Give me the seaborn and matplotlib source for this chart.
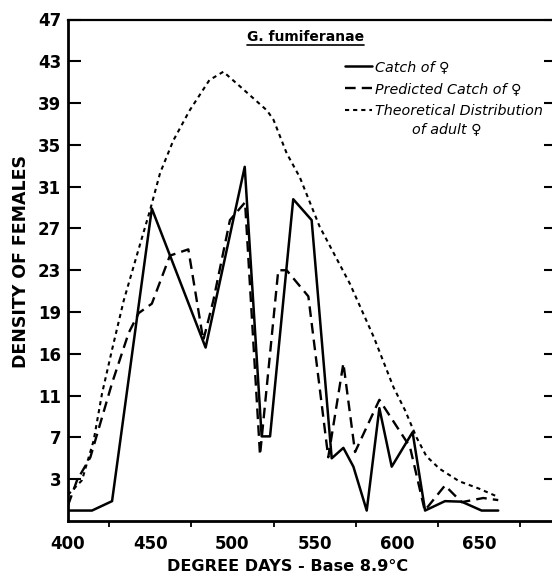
import matplotlib
matplotlib.use("Agg")
import matplotlib.pyplot as plt
import seaborn as sns
import pandas as pd
from matplotlib.lines import Line2D

# ---- data ----
catch_x = [400, 414.6, 426.8, 451, 483.7, 507.5, 517.8, 522.9, 537, 548.2, 560.4,
           567.5, 573.6, 581.7, 589.4, 596.9, 609.6, 617.2, 629.3, 639.4, 651.6, 661.7]
catch_y = [0, 0, 0.9, 28.9, 15.6, 32.9, 7.1, 7.1, 29.8, 27.8, 5.0,
           6.0, 4.2, 0, 9.8, 4.2, 7.5, 0, 0.9, 0.85, 0, 0]

pred_x = [400, 405.5, 413.6, 426.8, 436.9, 443, 451, 462, 473.2, 482.3, 488.4, 498.5,
          507.7, 516.8, 527.9, 533, 546.2, 558.3, 567.5, 574.6, 589.4, 608, 617,
          629.3, 639.4, 652.6, 661.7]
pred_y = [0.5, 2.9, 5.1, 12.2, 17.0, 18.9, 19.8, 24.4, 25.0, 16.3, 20.1, 27.8,
          29.5, 5.3, 23.0, 23.0, 20.5, 5.1, 14.1, 5.6, 10.6, 6.1, 0,
          2.4, 0.8, 1.2, 1.0]

theo_x = [400, 408.5, 415.6, 420.7, 426.8, 433.9, 442, 450, 456, 464, 474, 486, 494.5,
          504.6, 521, 525, 533, 541, 553, 571.5, 586, 598, 605, 612, 618, 626, 638,
          650, 661.7]
theo_y = [1.5, 2.9, 6.7, 11.2, 15.4, 20.1, 24.5, 28.8, 32.3, 35.4, 38.3, 41.2, 42.0,
          40.6, 38.3, 37.4, 34.2, 31.9, 27.2, 21.7, 16.6, 11.8, 9.6, 7.0, 5.2, 4.0, 2.8,
          2.1, 1.3]

x_ticks = [400, 450, 500, 550, 600, 650]
y_ticks = [3, 7, 11, 15, 19, 23, 27, 31, 35, 39, 43, 47]
y_tick_labels = ["3", "7", "11", "16", "19", "23", "27", "31", "35", "39", "43", "47"]

title_text = "G. fumiferanae"
legend_labels = ["Catch of \u2640", "Predicted Catch of \u2640", "Theoretical Distribution"]
legend_extra = "of adult \u2640"
x_label = "DEGREE DAYS - Base 8.9\u00b0C"
y_label = "DENSITY OF FEMALES"

# ---- figure ----
sns.set_style("white")
plt.rcParams['font.family'] = ['DejaVu Sans']
for k in ["text.color", "axes.labelcolor", "xtick.color", "ytick.color"]:
    plt.rcParams[k] = "black"

W, H = 552, 581
fig = plt.figure(figsize=(W / 100, H / 100), dpi=100)
ax = fig.add_axes([68 / W, (H - 521) / H, 488 / W, 501.5 / H])

df_c = pd.DataFrame({"x": catch_x, "y": catch_y})
df_p = pd.DataFrame({"x": pred_x, "y": pred_y})
df_t = pd.DataFrame({"x": theo_x, "y": theo_y})

dash_style = (0, (4.5, 2.6))
dot_style = (0, (2.0, 1.9))

sns.lineplot(data=df_c, x="x", y="y", ax=ax, color="black", lw=1.8,
             sort=False, estimator=None, label=legend_labels[0])
sns.lineplot(data=df_p, x="x", y="y", ax=ax, color="black", lw=1.7,
             linestyle=dash_style, sort=False, estimator=None, label=legend_labels[1])
sns.lineplot(data=df_t, x="x", y="y", ax=ax, color="black", lw=1.5,
             linestyle=dot_style, sort=False, estimator=None, label=legend_labels[2])

ax.set_xlim(400, 400 + 488 / 1.644)
ax.set_ylim(-1, 47)

ax.set_xticks(x_ticks)
ax.set_xticks([425, 475, 525, 575, 625, 675], minor=True)
ax.set_xticklabels([str(v) for v in x_ticks], fontsize=12, fontweight="bold")
ax.set_yticks(y_ticks)
ax.set_yticklabels(y_tick_labels, fontsize=12, fontweight="bold")

ax.tick_params(axis="x", which="major", direction="out", length=7, width=1.5, pad=3)
ax.tick_params(axis="x", which="minor", direction="out", length=4, width=1.3, bottom=True)
ax.tick_params(axis="y", which="major", direction="in", length=9, width=1.5, pad=5,
               left=True, right=True)

for s in ["left", "bottom"]:
    ax.spines[s].set_linewidth(2.0)
for s in ["top", "right"]:
    ax.spines[s].set_linewidth(1.6)
for s in ax.spines.values():
    s.set_color("black")

ax.set_xlabel(x_label, fontsize=11.6, fontweight="bold")
ax.xaxis.set_label_coords((288 - 68) / 488, -0.075)
ax.set_ylabel(y_label, fontsize=12.5, fontweight="bold")
ax.yaxis.set_label_coords(-0.078, (521 - 262) / 501.5)

# legend
handles = [Line2D([], [], color="black", lw=1.8),
           Line2D([], [], color="black", lw=1.7, linestyle=dash_style),
           Line2D([], [], color="black", lw=1.5, linestyle=dot_style)]
leg = ax.legend(handles, legend_labels, loc="upper left", bbox_to_anchor=(0.567, 0.919),
                frameon=False, handlelength=1.9, handletextpad=0.25, labelspacing=0.55,
                borderaxespad=0, borderpad=0,
                prop={"style": "italic", "size": 10.3})
ax.annotate(legend_extra, xy=(0.215, 0), xycoords=leg.get_texts()[2],
            xytext=(0, -3), textcoords="offset points", ha="left", va="top",
            fontsize=10.3, style="italic")

# title with underline
t = ax.text(0.4865, 0.965, title_text, transform=ax.transAxes, ha="center", va="center",
            fontsize=10, fontweight="bold")
fig.canvas.draw()
bb = t.get_window_extent(renderer=fig.canvas.get_renderer())
inv = fig.transFigure.inverted()
(x0, y0), (x1, y1) = inv.transform([(bb.x0, bb.y0 - 1), (bb.x1, bb.y0 - 1)])
fig.add_artist(Line2D([x0, x1], [y0, y1], color="black", lw=1.2, transform=fig.transFigure))

fig.savefig("out.png", dpi=100)
